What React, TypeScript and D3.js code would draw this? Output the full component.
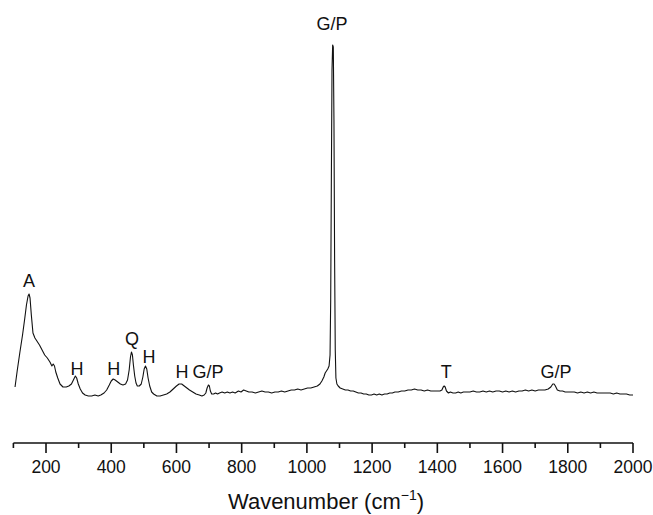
import { useEffect, useRef } from 'react';
import * as d3 from 'd3';

// Raman spectrum (intensity in arbitrary units)
const wavenumber = [
  105, 112, 120, 128, 135, 140, 145, 148, 151, 155, 160, 166, 172, 180, 188, 196, 204, 212, 218, 222,
  226, 230, 236, 243, 252, 262, 270, 278, 284, 290, 294, 299, 305, 312, 320, 330, 340, 350, 360, 368,
  378, 386, 394, 400, 406, 412, 420, 428, 436, 444, 450, 455, 459, 462, 465, 468, 472, 476, 480, 486,
  492, 497, 501, 505, 509, 513, 518, 524, 530, 540, 550, 560, 570, 580, 590, 600, 608, 616, 624, 632,
  640, 650, 660, 670, 678, 685, 690, 694, 698, 701, 704, 708, 714, 720, 726, 732, 740, 748, 756, 764,
  772, 780, 790, 798, 806, 814, 822, 832, 842, 852, 862, 872, 882, 892, 902, 912, 922, 932, 942, 952,
  962, 972, 982, 992, 1002, 1012, 1022, 1032, 1040, 1046, 1052, 1056, 1060, 1064, 1068, 1071, 1073, 1075, 1077, 1079,
  1081, 1083, 1085, 1087, 1089, 1092, 1096, 1102, 1110, 1118, 1126, 1134, 1142, 1150, 1158, 1166, 1174, 1182, 1190, 1198,
  1206, 1214, 1222, 1230, 1238, 1246, 1254, 1262, 1270, 1280, 1290, 1300, 1310, 1320, 1330, 1340, 1350, 1360, 1370, 1380,
  1390, 1400, 1408, 1414, 1418, 1421, 1424, 1428, 1434, 1440, 1448, 1456, 1464, 1472, 1480, 1490, 1500, 1510, 1520, 1530,
  1540, 1550, 1560, 1570, 1580, 1590, 1600, 1610, 1620, 1630, 1640, 1650, 1660, 1670, 1680, 1690, 1700, 1710, 1720, 1730,
  1740, 1748, 1754, 1758, 1762, 1768, 1776, 1784, 1792, 1800, 1810, 1820, 1830, 1840, 1850, 1860, 1870, 1880, 1890, 1900,
  1910, 1920, 1930, 1940, 1950, 1960, 1970, 1980, 1990, 2000
];
const intensity = [
  23, 40, 58, 75, 92, 105, 114, 116, 112, 95, 77, 72, 69, 65, 60, 55, 52, 48, 44, 46,
  44, 38, 32, 26, 23, 23, 24, 26, 30, 34, 32, 26, 21, 17, 15, 14, 14, 15, 14, 15,
  17, 20, 25, 29, 31, 30, 28, 26, 25, 26, 30, 40, 53, 58, 55, 45, 34, 27, 24, 24,
  26, 33, 41, 44, 41, 32, 24, 18, 16, 14, 14, 15, 16, 18, 21, 24, 26, 26, 24, 22,
  20, 18, 16, 15, 14, 15, 17, 22, 25, 24, 19, 16, 16, 17, 16, 17, 18, 17, 18, 17,
  18, 17, 19, 18, 20, 19, 18, 18, 17, 18, 19, 18, 18, 17, 18, 18, 19, 18, 19, 20,
  20, 21, 20, 21, 22, 22, 23, 24, 26, 29, 33, 37, 39, 41, 44, 55, 110, 230, 340, 365,
  363, 290, 150, 60, 32, 26, 24, 22, 21, 20, 20, 19, 19, 18, 17, 17, 16, 16, 15, 15,
  16, 15, 16, 15, 16, 16, 17, 17, 18, 18, 19, 19, 20, 20, 21, 20, 20, 19, 20, 19,
  19, 19, 19, 20, 23, 24, 23, 19, 17, 18, 17, 17, 18, 17, 18, 18, 18, 19, 18, 18,
  19, 18, 19, 18, 19, 19, 18, 19, 18, 19, 18, 19, 19, 20, 19, 20, 19, 20, 20, 20,
  21, 23, 26, 26, 24, 20, 19, 19, 18, 18, 18, 18, 17, 18, 17, 18, 17, 18, 17, 17,
  17, 17, 17, 16, 17, 16, 16, 16, 15, 15
];

// Band assignments
const labelText = ['A', 'H', 'H', 'Q', 'H', 'H', 'G/P', 'G/P', 'T', 'G/P'];
const labelWn = [148, 295, 408, 464, 516, 617, 697, 1077, 1427, 1764];
const labelLevel = [123, 35, 35, 65, 47, 32, 32, 380, 32, 32];

const majorTicks = [200, 400, 600, 800, 1000, 1200, 1400, 1600, 1800, 2000];
const minorTicks = [100, 300, 500, 700, 900, 1100, 1300, 1500, 1700, 1900];

function App() {
  const ref = useRef<SVGSVGElement>(null);

  useEffect(() => {
    drawSpectrum()
    // eslint-disable-next-line
  }, [])

  function drawSpectrum() {
    const config = {
      left: 13.4,
      right: 633,
      axisY: 443,
      base: 410,
      top: 45
    }
    const font = '"Liberation Sans", Arial, sans-serif'

    const svg = d3.select(ref.current)
    svg.selectAll('*').remove()

    const xScale = d3.scaleLinear().domain([100, 2000]).range([config.left, config.right])
    const yScale = d3.scaleLinear().domain([0, 365]).range([config.base, config.top])

    const data = wavenumber.map((w, i) => ({ w, v: intensity[i] }))

    const line = d3.line<{ w: number; v: number }>()
      .x(d => xScale(d.w))
      .y(d => yScale(d.v))

    svg.append('path')
      .datum(data)
      .attr('d', line)
      .attr('fill', 'none')
      .attr('stroke', '#111')
      .attr('stroke-width', 1.1)
      .attr('stroke-linejoin', 'round')

    // labels
    svg.append('g')
      .selectAll('text')
      .data(labelText)
      .join('text')
      .attr('x', (_, i) => xScale(labelWn[i]))
      .attr('y', (_, i) => yScale(labelLevel[i]))
      .attr('text-anchor', 'middle')
      .attr('font-family', font)
      .attr('font-size', 18)
      .attr('fill', '#111')
      .text(d => d)

    // x axis
    const axis = svg.append('g')
    axis.append('line')
      .attr('x1', xScale(100)).attr('x2', xScale(2000))
      .attr('y1', config.axisY).attr('y2', config.axisY)
      .attr('stroke', '#111').attr('stroke-width', 1.6)

    axis.selectAll('.major')
      .data(majorTicks)
      .join('line')
      .attr('class', 'major')
      .attr('x1', d => xScale(d)).attr('x2', d => xScale(d))
      .attr('y1', config.axisY).attr('y2', config.axisY + 10)
      .attr('stroke', '#111').attr('stroke-width', 1.6)

    axis.selectAll('.minor')
      .data(minorTicks)
      .join('line')
      .attr('class', 'minor')
      .attr('x1', d => xScale(d)).attr('x2', d => xScale(d))
      .attr('y1', config.axisY).attr('y2', config.axisY + 5)
      .attr('stroke', '#111').attr('stroke-width', 1.6)

    axis.selectAll('.lbl')
      .data(majorTicks)
      .join('text')
      .attr('class', 'lbl')
      .attr('x', d => xScale(d))
      .attr('y', config.axisY + 30)
      .attr('text-anchor', 'middle')
      .attr('font-family', font)
      .attr('font-size', 17.5)
      .attr('fill', '#111')
      .text(d => d)

    const title = svg.append('text')
      .attr('x', 326)
      .attr('y', 509)
      .attr('text-anchor', 'middle')
      .attr('font-family', font)
      .attr('font-size', 22)
      .attr('fill', '#111')
    title.append('tspan').text('Wavenumber (cm')
    title.append('tspan').attr('font-size', 14).attr('dy', -9).text('\u22121')
    title.append('tspan').attr('dy', 9).text(')')
  }

  return (
    <svg
      ref={ref}
      width={653}
      height={515}
      style={{ position: 'absolute', left: 0, top: 0, background: '#fff' }}
    />
  )
}

export default App
